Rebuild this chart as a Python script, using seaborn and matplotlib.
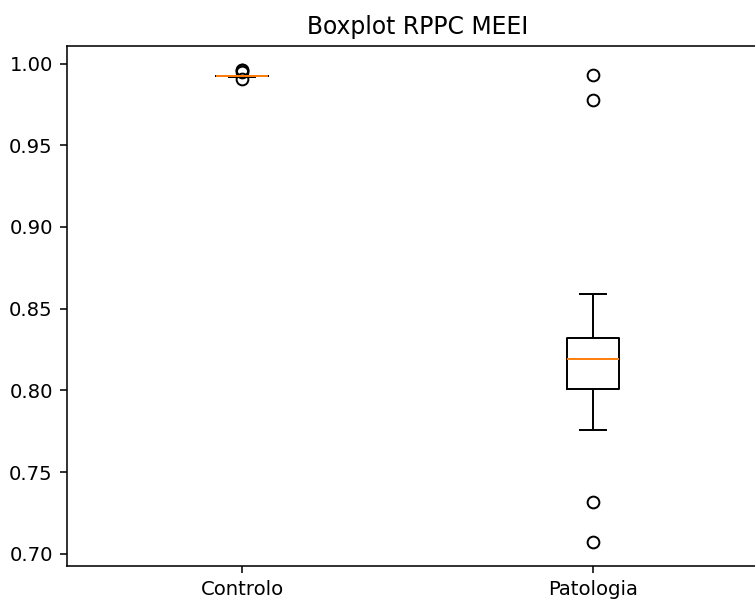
import matplotlib
matplotlib.use("Agg")
import matplotlib.pyplot as plt
import seaborn as sns
import pandas as pd

# RPPC values per group
controlo = [0.9905, 0.9919, 0.9920, 0.9921, 0.9922, 0.9922, 0.9923,
            0.9923, 0.9924, 0.9925, 0.9926, 0.9950, 0.9958, 0.9963]
patologia = [0.707, 0.732, 0.776, 0.788, 0.795, 0.801, 0.806, 0.810,
             0.814, 0.817, 0.819, 0.822, 0.825, 0.828, 0.830, 0.832,
             0.838, 0.845, 0.859, 0.978, 0.993]
groups = ["Controlo", "Patologia"]
title = "Boxplot RPPC MEEI"

df = pd.DataFrame({
    "grupo": [groups[0]] * len(controlo) + [groups[1]] * len(patologia),
    "rppc": controlo + patologia,
})

dpi = 141
fig = plt.figure(figsize=(755 / dpi, 601 / dpi), dpi=dpi)
ax = fig.add_axes([0.0881, 0.0582, 0.9298, 0.8653])

sns.boxplot(
    data=df, x="grupo", y="rppc", order=groups, ax=ax,
    fill=False, color="black", width=0.15, linewidth=1.0, whis=1.5,
    fliersize=6,
    medianprops=dict(color="#ff7f0e", linewidth=1.0),
    flierprops=dict(marker="o", markerfacecolor="none",
                    markeredgecolor="black", markeredgewidth=1.0),
)

ax.set_xlabel("")
ax.set_ylabel("")
ax.set_title(title, fontsize=12)
ax.set_yticks([0.70, 0.75, 0.80, 0.85, 0.90, 0.95, 1.00])
ax.yaxis.set_major_formatter(matplotlib.ticker.FormatStrFormatter("%.2f"))
ax.set_xlim(-0.5, 1.5)

fig.savefig("out.png", dpi=dpi)
